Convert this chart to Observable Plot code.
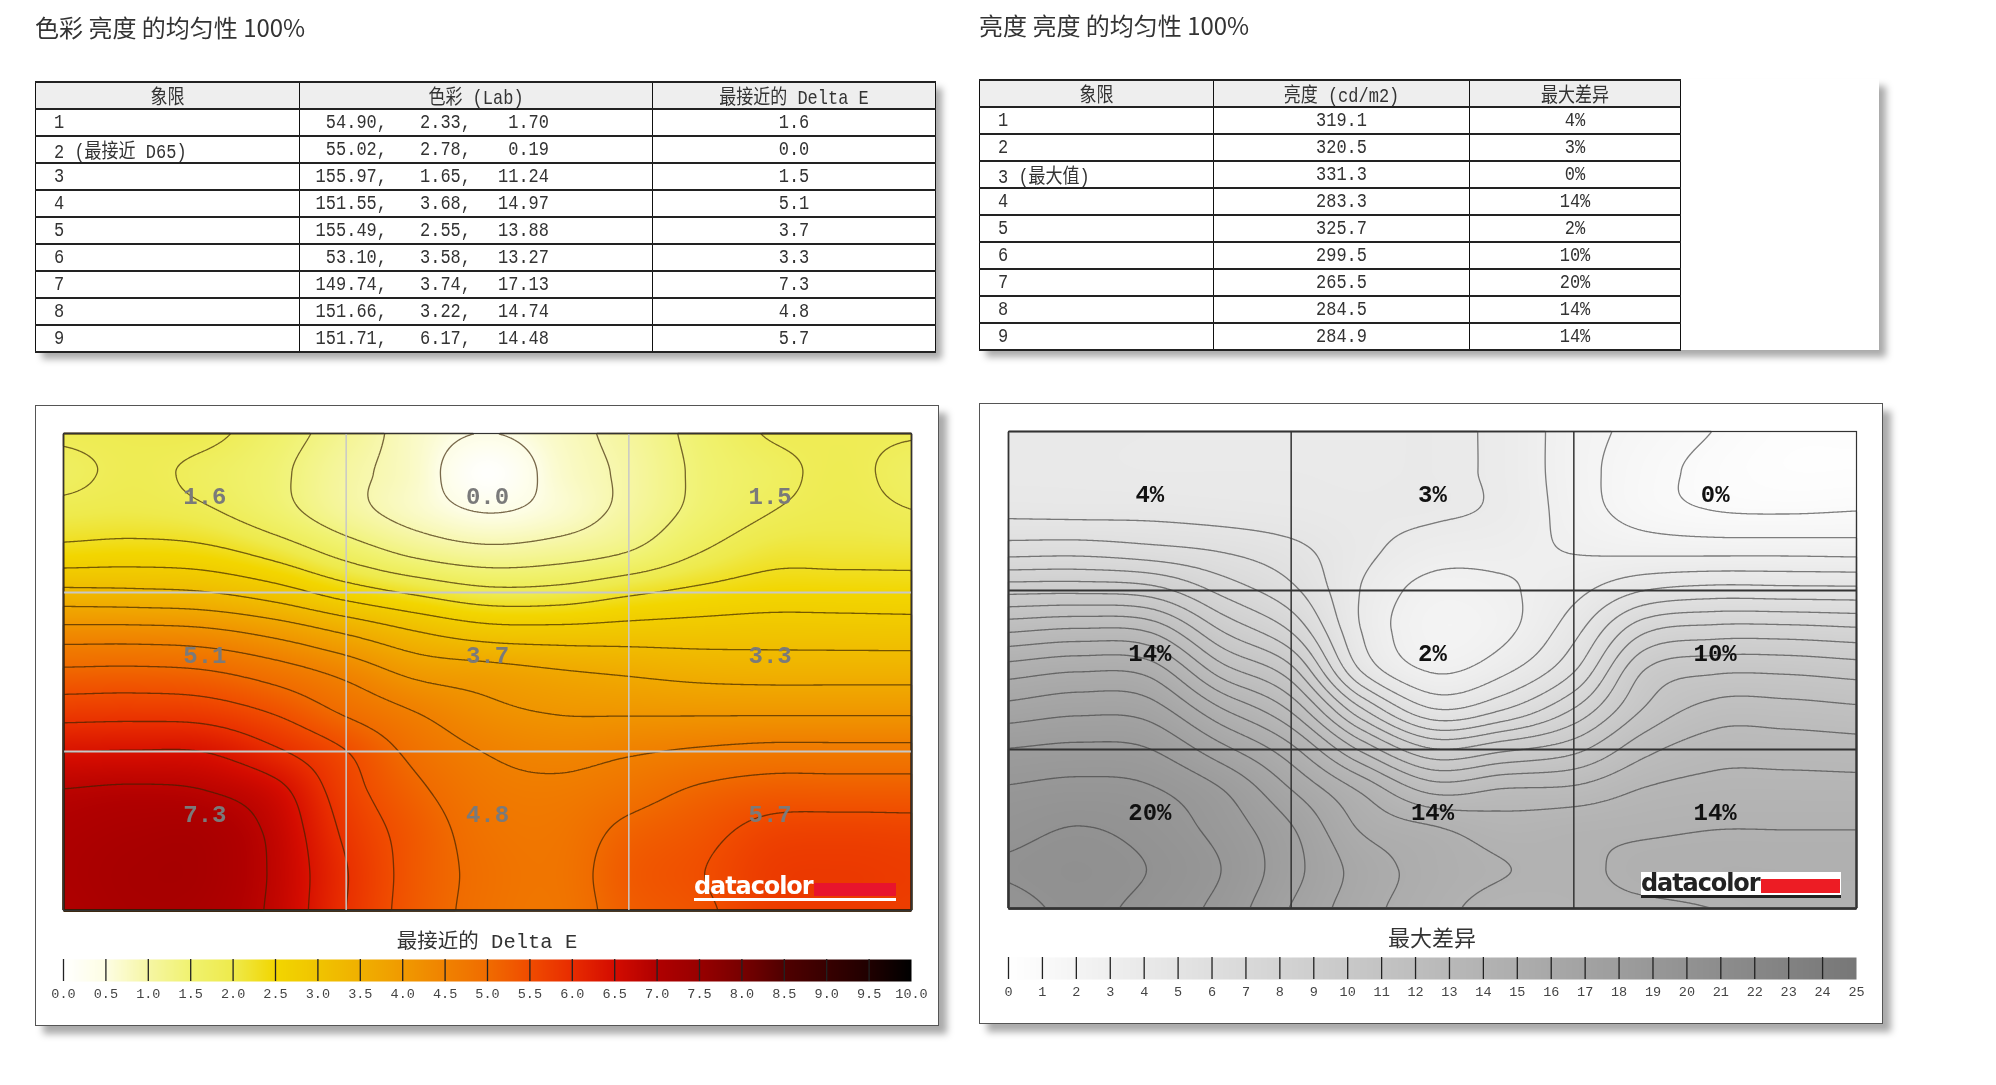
<!DOCTYPE html>
<html>
<head>
<meta charset="utf-8">
<script src="https://cdn.jsdelivr.net/npm/d3@7"></script>
<script src="https://cdn.jsdelivr.net/npm/@observablehq/plot@0.6"></script>
<style>
  html,body{margin:0;padding:0;background:#fff;}
  #page{position:relative;width:1996px;height:1085px;overflow:hidden;filter:blur(0.45px);color:#333;
        font-family:"Liberation Mono","Noto Sans CJK SC",monospace;}
  .abs{position:absolute;}
  .title{font-family:"Noto Sans CJK SC","Noto Sans",sans-serif;font-size:24px;line-height:30px;color:#333;white-space:pre;}
  table{border-collapse:collapse;table-layout:fixed;background:#fff;font-size:17px;}
  td,th{border:1px solid #111;border-top:2px solid #222;border-bottom:2px solid #222;padding:0;height:25px;font-weight:normal;text-align:center;white-space:pre;overflow:hidden;}
  th{background:#eee;}
  td.l{text-align:left;padding-left:18px;}
  td span.n{display:inline-block;text-align:right;}
  td>span.t,th>span.t,td span.n{transform:scaleY(1.18);}
  td>span.t,th>span.t{display:inline-block;}
  .panel{background:#fff;border:1.5px solid #555;box-shadow:8px 8px 7px #aaa;box-sizing:border-box;}
  .legendTitle{line-height:26px;white-space:pre;text-align:center;color:#333;}
  .logo{font-family:"DejaVu Sans",sans-serif;font-weight:bold;font-size:24px;letter-spacing:-1.1px;line-height:26px;}
  svg{display:block;overflow:visible;background:transparent;}
</style>
</head>
<body>
<div id="page"></div>
<script>
// ---------- table data ----------
const quadrants = ["1","2 (最接近 D65)","3","4","5","6","7","8","9"];
const labL = ["54.90,","55.02,","155.97,","151.55,","155.49,","53.10,","149.74,","151.66,","151.71,"];
const labA = ["2.33,","2.78,","1.65,","3.68,","2.55,","3.58,","3.74,","3.22,","6.17,"];
const labB = ["1.70","0.19","11.24","14.97","13.88","13.27","17.13","14.74","14.48"];
const deltaE = ["1.6","0.0","1.5","5.1","3.7","3.3","7.3","4.8","5.7"];
const lumQuadrants = ["1","2","3 (最大值)","4","5","6","7","8","9"];
const luminance = ["319.1","320.5","331.3","283.3","325.7","299.5","265.5","284.5","284.9"];
const maxDiff = ["4%","3%","0%","14%","2%","10%","20%","14%","14%"];

// ---------- surfaces (13 columns of 13 samples, top to bottom) ----------
const deltaEColumns = [
 [1.89,1.72,1.97,2.44,3.31,4.29,5.11,5.75,6.38,6.86,7.02,7.07,7.02],
 [1.92,1.89,2.01,2.49,3.28,4.29,5.13,5.77,6.41,6.91,7.11,7.18,7.16],
 [1.92,1.73,1.89,2.42,3.21,4.22,5.06,5.72,6.38,6.85,7.11,7.16,7.11],
 [1.57,1.46,1.55,2.12,2.95,3.97,4.79,5.43,6.00,6.54,6.73,6.77,6.75],
 [1.16,1.03,1.09,1.66,2.53,3.60,4.42,4.95,5.49,5.68,5.84,5.95,5.93],
 [0.72,0.70,0.73,1.26,2.21,3.21,3.98,4.55,4.88,5.11,5.27,5.29,5.27],
 [0.45,0.05,0.46,1.06,1.96,2.95,3.84,4.23,4.54,4.72,4.83,4.90,4.88],
 [0.74,0.66,0.66,1.16,1.99,2.91,3.69,4.08,4.42,4.65,4.77,4.81,4.79],
 [1.07,1.00,1.05,1.39,2.21,2.94,3.59,4.06,4.51,4.83,5.13,5.27,5.22],
 [1.50,1.45,1.50,1.82,2.39,2.96,3.50,4.05,4.62,5.09,5.34,5.46,5.40],
 [1.85,1.71,1.82,2.12,2.51,2.98,3.47,4.05,4.70,5.24,5.61,5.75,5.72],
 [1.87,1.89,1.94,2.14,2.51,2.97,3.47,4.05,4.70,5.24,5.65,5.79,5.77],
 [1.85,1.70,1.84,2.13,2.49,2.96,3.47,4.05,4.70,5.24,5.63,5.75,5.72]
];
const diffColumns = [
 [4.00,4.05,4.52,6.28,9.23,12.23,14.76,16.56,18.14,19.14,19.71,20.09,19.66],
 [4.00,4.05,4.47,6.33,9.28,12.52,15.14,16.90,18.33,19.33,20.04,20.33,20.18],
 [3.95,3.95,4.47,6.05,9.00,12.23,14.85,16.66,18.12,19.14,19.66,19.97,19.71],
 [3.92,3.95,4.33,5.66,7.38,9.52,11.90,14.42,16.52,18.14,18.71,19.06,18.75],
 [3.90,3.95,4.19,5.05,5.95,7.52,9.81,12.23,14.57,16.18,17.23,17.47,17.09],
 [3.88,3.90,4.00,4.05,3.76,3.78,4.66,7.76,11.23,14.09,15.14,15.80,15.61],
 [3.95,3.95,3.95,3.33,2.48,2.19,2.76,4.86,8.66,12.04,14.42,14.85,14.66],
 [3.60,3.60,3.60,3.14,2.71,2.62,3.57,5.71,9.33,12.42,13.80,14.33,13.90],
 [2.35,2.32,2.43,2.81,3.52,4.43,5.62,7.71,10.19,12.57,13.99,14.14,14.04],
 [1.58,1.33,1.43,2.62,4.76,7.43,9.52,10.57,12.09,13.38,14.14,14.52,14.14],
 [0.92,0.67,0.95,2.57,5.14,8.00,10.28,11.80,12.90,13.66,14.28,14.61,14.30],
 [0.38,0.29,0.86,2.57,5.09,8.00,10.28,11.80,12.90,13.68,14.28,14.61,14.52],
 [0.33,0.29,0.95,2.52,5.05,7.81,10.04,11.61,12.80,13.66,14.28,14.61,14.52]
];
const deltaEThresholds = [0.46,0.91,1.37,1.82,2.28,2.74,3.19,3.65,4.11,4.56,5.02,5.48,5.93,6.39,6.84];
const diffThresholds = [0.95,1.9,2.86,3.81,4.76,5.71,6.67,7.62,8.57,9.52,10.48,11.43,12.38,13.33,14.29,15.24,16.19,17.14,18.1,19.05,20];

// ---------- colour legends ----------
const deltaEStops = [0,0.5,1,1.5,2,2.5,3,3.5,4,4.5,5,5.5,6,6.5,7,7.5,8,8.5,9,9.5,10];
const deltaEColors = ["#ffffff","#fdfde4","#f6f6a4","#f0f270","#eeea4c","#f2d600","#f0c400","#f0b000","#f09a00","#f08200","#f06c00","#f04c00","#e82c00","#d40c00","#b00000","#980000","#780000","#500000","#380000","#200000","#000000"];
const diffStops = [0,25];
const diffColors = ["#ffffff","#777777"];
const deltaETicks = [0,0.5,1,1.5,2,2.5,3,3.5,4,4.5,5,5.5,6,6.5,7,7.5,8,8.5,9,9.5];
const deltaETickLabels = [...deltaETicks,10];
const diffTicks = d3.range(0,25);
const diffTickLabels = d3.range(0,26);

const page = document.getElementById("page");
function place(el,x,y,w,h){el.classList.add("abs");el.style.left=x+"px";el.style.top=y+"px";if(w!=null)el.style.width=w+"px";if(h!=null)el.style.height=h+"px";page.appendChild(el);return el;}
function div(cls,text,x,y,w,h){const d=document.createElement("div");d.className=cls;if(text)d.textContent=text;return place(d,x,y,w,h);}

// Catmull-Rom surface through the samples, handed to Plot as its interpolate option
function surface(index,w,h,X,Y,V){
  const n=13,M=new Float64Array(n*n);
  for(const i of index){const c=Math.round(X[i]/w*(n-1)),r=Math.round(Y[i]/h*(n-1));M[r*n+c]=V[i];}
  const at=(r,c)=>{
    if(c<0)return 2*at(r,0)-at(r,1);
    if(c>=n)return 2*at(r,n-1)-at(r,n-2);
    if(r<0)return 2*at(0,c)-at(1,c);
    if(r>=n)return 2*at(n-1,c)-at(n-2,c);
    return M[r*n+c];
  };
  const cr=(a,b,c,d,t)=>0.5*(2*b+(c-a)*t+(2*a-5*b+4*c-d)*t*t+(-a+3*b-3*c+d)*t*t*t);
  const W=new Float64Array(w*h);
  for(let py=0;py<h;py++){
    const gy=(py+0.5)/h*(n-1),r0=Math.min(n-2,Math.floor(gy)),ty=gy-r0;
    for(let px=0;px<w;px++){
      const gx=(px+0.5)/w*(n-1),c0=Math.min(n-2,Math.floor(gx)),tx=gx-c0;
      const row=k=>cr(at(r0+k,c0-1),at(r0+k,c0),at(r0+k,c0+1),at(r0+k,c0+2),tx);
      W[py*w+px]=cr(row(-1),row(0),row(1),row(2),ty);
    }
  }
  return W;
}

function gridOf(columns){
  const g=[];
  columns.forEach((col,c)=>col.forEach((v,r)=>g.push({x:c/4,y:r/4,v})));
  return g;
}

function mapPlot({columns,thresholds,stops,colors,labels,gridColor,gridWidth,lineColor,lineOpacity,textColor,width,height}){
  const g=gridOf(columns);
  const cells=labels.map((t,i)=>({t,x:i%3+0.5,y:Math.floor(i/3)+0.5}));
  const bounds={x1:0,x2:3,y1:0,y2:3};
  return Plot.plot({
    width,height,margin:0,
    x:{domain:[0,3],axis:null},
    y:{domain:[0,3],reverse:true,axis:null},
    color:{type:"linear",domain:stops,range:colors,clamp:true},
    marks:[
      Plot.raster(g,{x:"x",y:"y",fill:"v",interpolate:surface,pixelSize:1,...bounds}),
      Plot.contour(g,{x:"x",y:"y",value:"v",thresholds,interpolate:surface,pixelSize:1,...bounds,
        fill:"none",stroke:lineColor,strokeOpacity:lineOpacity,strokeWidth:1.3}),
      Plot.ruleX([1,2],{stroke:gridColor,strokeWidth:gridWidth}),
      Plot.ruleY([1,2],{stroke:gridColor,strokeWidth:gridWidth+0.5}),
      Plot.text(cells,{x:"x",y:"y",text:"t",dy:-17,fill:textColor,fontSize:24,fontWeight:"bold",fontFamily:"Liberation Mono"}),
      Plot.frame({stroke:"#333",strokeWidth:1.2})
    ]
  });
}

function legendPlot({max,ticks,tickLabels,stops,colors,format,width}){
  return Plot.plot({
    width:width+60,height:50,marginLeft:30,marginRight:30,marginTop:2,marginBottom:26,
    x:{domain:[0,max],axis:null},
    y:{domain:[0,1],axis:null},
    color:{type:"linear",domain:stops,range:colors},
    marks:[
      Plot.raster({fill:(x)=>x,x1:0,x2:max,y1:0,y2:1,width:width,height:1}),
      Plot.ruleX(ticks,{stroke:"#222",strokeWidth:1.3}),
      Plot.axisX({ticks:tickLabels,tickSize:0,tickPadding:7,tickFormat:format,fontSize:13.5,fontFamily:"Liberation Mono",fill:"#444"})
    ]
  });
}

// ---------- titles ----------
div("title","色彩 亮度 的均匀性 100%",35,12);
div("title","亮度 亮度 的均匀性 100%",979,10);

// ---------- tables ----------
function tableEl(widths,headers,rows){
  const t=document.createElement("table");
  t.innerHTML="<colgroup>"+widths.map(w=>`<col style="width:${w}px">`).join("")+"</colgroup>"
   +"<tr>"+headers.map(h=>`<th><span class="t">${h}</span></th>`).join("")+"</tr>"
   +rows.map(r=>"<tr>"+r.join("")+"</tr>").join("");
  t.style.width=d3.sum(widths)+"px";
  return t;
}
const tt=s=>`<span class="t">${s}</span>`;
const leftRows=quadrants.map((q,i)=>[
  `<td class="l">${tt(q)}</td>`,
  `<td style="text-align:left"><span class="n" style="width:87px">${labL[i]}</span><span class="n" style="width:84px">${labA[i]}</span><span class="n" style="width:78px">${labB[i]}</span></td>`,
  `<td>${tt(deltaE[i])}</td>`]);
const leftShadow=div("",null,35,81,900,271);leftShadow.style.boxShadow="7px 7px 7px #aaa";
place(tableEl([264,353,283],["象限","色彩 (Lab)","最接近的 Delta E"],leftRows),35,81);
const rightRows=lumQuadrants.map((q,i)=>[
  `<td class="l">${tt(q)}</td>`,`<td>${tt(luminance[i])}</td>`,`<td>${tt(maxDiff[i])}</td>`]);
const rightShadow=div("",null,979,79,900,271);rightShadow.style.boxShadow="7px 7px 7px #aaa";rightShadow.style.background="#fff";
place(tableEl([234,256,211],["象限","亮度 (cd/m2)","最大差异"],rightRows),979,79);

// ---------- panels ----------
div("panel",null,35,405,904,621);
div("panel",null,979,403,904,621);

const leftMap=mapPlot({columns:deltaEColumns,thresholds:deltaEThresholds,stops:deltaEStops,colors:deltaEColors,labels:deltaE,
  gridColor:"#c8c8c8",gridWidth:1.5,lineColor:"#3a2200",lineOpacity:0.68,textColor:"#7a7a7a",width:848,height:477});
place(leftMap,63,433);
const rightMap=mapPlot({columns:diffColumns,thresholds:diffThresholds,stops:diffStops,colors:diffColors,labels:maxDiff,
  gridColor:"#333",gridWidth:1.5,lineColor:"#444",lineOpacity:0.68,textColor:"#111",width:848,height:477});
place(rightMap,1008,430.5);

// ---------- datacolor marks ----------
const logoL=div("logo","datacolor",694,873);logoL.style.color="#fff";
div("",null,814,883,82,13).style.background="#e8142c";
div("",null,694,898,202,2.5).style.background="#fff";
div("",null,1641,872,200,25).style.background="#fff";
const logoR=div("logo","datacolor",1641,870);logoR.style.color="#222";
div("",null,1761,879,79,14).style.background="#ed1c24";
div("",null,1641,895,200,2.5).style.background="#222";

// ---------- legends ----------
div("legendTitle","最接近的 Delta E",63,930,848).style.fontSize="20.5px";
div("legendTitle","最大差异",1008,928,848).style.fontSize="22px";
place(legendPlot({max:10,ticks:deltaETicks,tickLabels:deltaETickLabels,stops:deltaEStops,colors:deltaEColors,format:d3.format(".1f"),width:848}),33,957);
place(legendPlot({max:25,ticks:diffTicks,tickLabels:diffTickLabels,stops:diffStops,colors:diffColors,format:d=>String(d),width:848}),978,955);
</script>
</body>
</html>
